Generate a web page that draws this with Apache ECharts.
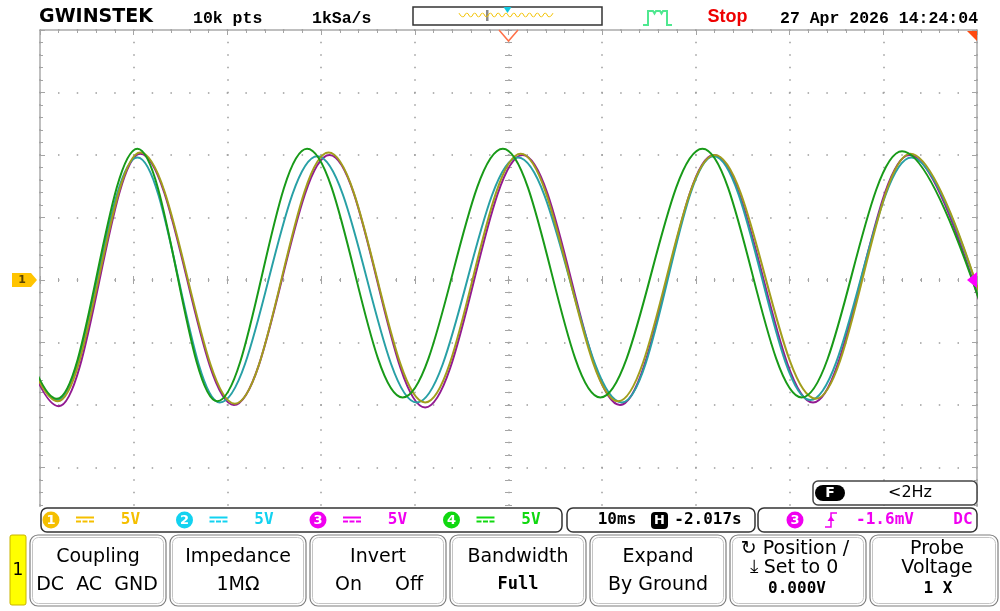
<!DOCTYPE html>
<html>
<head>
<meta charset="utf-8">
<title>GW Instek capture</title>
<script src="https://cdn.jsdelivr.net/npm/echarts@6/dist/echarts.min.js"></script>
<style>
  html, body { margin: 0; padding: 0; background: #fff; }
  #chart { width: 1000px; height: 611px; }
</style>
</head>
<body>
<div id="chart"></div>
<script>
// peaks and troughs: time in ms (10 ms/div), level in V (5 V/div)
// first and last entries sit just outside the 100 ms window
const ch1Times = [-7.6, 1.9, 10.7, 20.8, 30.8, 41.1, 51.3, 61.7, 72.0, 82.8, 92.9, 103.6];
const ch1Volts = [10.1, -9.7, 10.2, -9.9, 10.2, -9.8, 10.1, -9.7, 10.0, -9.5, 10.1, -9.7];
const ch2Times = [-7.0, 1.8, 10.4, 19.2, 29.6, 40.2, 51.0, 62.1, 71.9, 82.2, 93.0, 103.6];
const ch2Volts = [9.8, -9.6, 9.8, -9.8, 9.9, -9.8, 9.8, -9.8, 9.9, -9.6, 9.8, -9.7];
const ch3Times = [-7.4, 2.0, 10.7, 20.7, 30.9, 41.1, 51.5, 61.9, 71.9, 82.5, 92.8, 103.4];
const ch3Volts = [10.0, -10.1, 10.1, -10.0, 10.0, -10.2, 10.0, -10.0, 10.0, -9.8, 10.0, -10.0];
const ch4Times = [-7.0, 1.8, 10.4, 18.9, 28.5, 38.7, 49.4, 59.8, 70.7, 81.3, 92.0, 103.5];
const ch4Volts = [10.3, -9.5, 10.5, -9.7, 10.5, -9.4, 10.5, -9.4, 10.5, -9.4, 10.3, -9.5];

// memory overview strip in the header
const miniWave = [1, -1, 1, -1, 1, -1, 1, -1, 1, -1, 1, -1, 1, -1, 1, -1, 1, -1, 1, -1, 1, -1, 1, -1, 1];

const chanNames = ['1', '2', '3', '4'];
const chanScales = ['5V', '5V', '5V', '5V'];
const chanColors = ['#f5bf00', '#12d2f0', '#f000f0', '#10d810'];
const traceColors = ['#a29e1c', '#28a0a6', '#921a92', '#189a18'];

const chart = echarts.init(document.getElementById('chart'));

function zip(ts, vs) {
    return ts.map((t, i) => [t, vs[i]]);
}

function txt(x, y, text, font, fill, align) {
    const a = align || 'center';
    return {
        type: 'text', x: x, y: y, z: 110,
        style: {text: text, font: font, fill: fill, align: a, textAlign: a,
            verticalAlign: 'middle', textVerticalAlign: 'middle'}
    };
}

function box(x, y, w, h, r, fill, stroke, lw) {
    return {
        type: 'rect', z: 105,
        shape: {x: x, y: y, width: w, height: h, r: r},
        style: {fill: fill, stroke: stroke, lineWidth: lw || 1}
    };
}

const gridGray = '#a4a4a4';
const tickStyle = {color: gridGray, width: 1};

function tickAxis(kind, extra) {
    const base = {
        type: 'value',
        min: kind === 'x' ? 0 : -20,
        max: kind === 'x' ? 100 : 20,
        interval: kind === 'x' ? 10 : 5,
        axisLine: {show: false, onZero: false},
        axisLabel: {show: false},
        splitLine: {show: false},
        axisTick: {show: true, inside: true, length: 5, lineStyle: tickStyle},
        minorTick: {show: true, splitNumber: 5, length: 3, lineStyle: tickStyle}
    };
    return Object.assign(base, extra);
}

const monoB = 'bold 16px "DejaVu Sans Mono"';
const sans = '19px "DejaVu Sans"';

const elements = [];

// ---- header ----
elements.push(txt(96, 17, 'GWINSTEK', 'bold 19px "DejaVu Sans"', '#000'));
elements.push(txt(193, 19, '10k pts', 'bold 16.5px "Liberation Mono"', '#000', 'left'));
elements.push(txt(312, 19, '1kSa/s', 'bold 16.5px "Liberation Mono"', '#000', 'left'));
elements.push(box(413, 7, 189, 18, 0, '#fff', '#333', 1.5));
elements.push({type: 'rect', z: 112, shape: {x: 486, y: 10, width: 2.5, height: 11}, style: {fill: '#8a8a8a'}});
elements.push({type: 'polygon', z: 112, shape: {points: [[503.5, 7], [511.5, 7], [507.5, 13]]}, style: {fill: '#10c8e0'}});
elements.push({
    type: 'polyline', z: 110,
    shape: {points: [[643, 25], [648, 25], [648, 11], [653, 11], [654.5, 13.5], [656, 11], [660, 11], [661.5, 13.5], [663, 11], [667, 11], [667, 25], [672, 25]]},
    style: {stroke: '#4fe890', lineWidth: 2, fill: null}
});
elements.push(txt(727.5, 17.5, 'Stop', 'bold 18px "Liberation Sans"', '#ee0000'));
elements.push(txt(780, 19, '27 Apr 2026 14:24:04', 'bold 16.5px "Liberation Mono"', '#000', 'left'));

// ---- screen markers ----
elements.push({type: 'polyline', z: 110, shape: {points: [[499, 30], [508.5, 41], [518, 30]]}, style: {stroke: '#ff7048', lineWidth: 1.5, fill: null}});
elements.push({type: 'polygon', z: 110, shape: {points: [[967, 31], [977, 31], [977, 41]]}, style: {fill: '#ff4a10'}});
elements.push({type: 'polygon', z: 110, shape: {points: [[967, 280], [977, 272], [977, 288]]}, style: {fill: '#ff00ff'}});
elements.push({type: 'polygon', z: 110, shape: {points: [[12, 273], [31, 273], [37, 280], [31, 287], [12, 287]]}, style: {fill: '#ffc400'}});
elements.push(txt(22, 280.5, '1', 'bold 11px "DejaVu Sans"', '#5a4400'));

// ---- info bar ----
elements.push({type: 'rect', z: 100, shape: {x: 0, y: 507, width: 1000, height: 104}, style: {fill: '#fff'}});
elements.push(box(813, 481, 164, 24, 5, '#fff', '#444', 1.5));
elements.push(box(815, 485, 30, 16, 8, '#000', null, 0));
elements.push(txt(830, 493.5, 'F', 'bold 14px "DejaVu Sans"', '#fff'));
elements.push(txt(910, 493, '<2Hz', '16px "DejaVu Sans"', '#000'));

elements.push(box(41, 508, 521, 24, 6, '#fff', '#333', 1.5));
elements.push(box(567, 508, 188, 24, 6, '#fff', '#333', 1.5));
elements.push(box(758, 508, 219, 24, 6, '#fff', '#333', 1.5));

chanNames.forEach((name, i) => {
    const x0 = 51 + i * 133.5;
    const c = chanColors[i];
    elements.push({type: 'circle', z: 110, shape: {cx: x0, cy: 520, r: 8.5}, style: {fill: c}});
    elements.push(txt(x0, 520.5, name, 'bold 13px "DejaVu Sans"', '#fff'));
    elements.push({type: 'rect', z: 110, shape: {x: x0 + 25, y: 516.5, width: 18, height: 2}, style: {fill: c}});
    for (let k = 0; k < 3; k++) {
        elements.push({type: 'rect', z: 110, shape: {x: x0 + 25 + k * 6.5, y: 520.5, width: 5, height: 2}, style: {fill: c}});
    }
    elements.push(txt(x0 + 79.5, 520, chanScales[i], monoB, c));
});

elements.push(txt(617, 520, '10ms', monoB, '#000'));
elements.push(box(651, 512, 17, 17, 4, '#000', null, 0));
elements.push(txt(659.5, 520.5, 'H', 'bold 13px "DejaVu Sans"', '#fff'));
elements.push(txt(708, 520, '-2.017s', monoB, '#000'));

elements.push({type: 'circle', z: 110, shape: {cx: 795, cy: 520, r: 8.5}, style: {fill: '#f000f0'}});
elements.push(txt(795, 520.5, '3', 'bold 13px "DejaVu Sans"', '#fff'));
elements.push({type: 'polyline', z: 110, shape: {points: [[825, 527], [831, 527], [831, 513], [837, 513]]}, style: {stroke: '#f000f0', lineWidth: 1.5, fill: null}});
elements.push({type: 'polygon', z: 110, shape: {points: [[827.5, 521], [834.5, 521], [831, 516]]}, style: {fill: '#f000f0'}});
elements.push(txt(885, 520, '-1.6mV', monoB, '#f000f0'));
elements.push(txt(963, 520, 'DC', monoB, '#f000f0'));

// ---- soft menu ----
elements.push(box(10, 535, 16, 70, 2, '#ffff00', '#c8b400', 1));
elements.push(txt(18, 571, '1', '17px "DejaVu Sans"', '#000'));

const btnX = [30, 170, 310, 450, 590, 730, 870];
btnX.forEach((x, i) => {
    const w = i === 6 ? 128 : 136;
    elements.push(box(x, 535, w, 71, 8, '#fff', '#7e7e7e', 1.2));
    elements.push({type: 'rect', z: 106, shape: {x: x + 2.5, y: 537.5, width: w - 5, height: 66, r: 6}, style: {fill: null, stroke: '#c4c4c4', lineWidth: 1}});
});

elements.push(txt(98, 557, 'Coupling', sans, '#000'));
elements.push(txt(97, 585, 'DC  AC  GND', sans, '#000'));
elements.push(txt(238, 557, 'Impedance', sans, '#000'));
elements.push(txt(238, 585, '1MΩ', sans, '#000'));
elements.push(txt(378, 557, 'Invert', sans, '#000'));
elements.push(txt(348.5, 585, 'On', sans, '#000'));
elements.push(txt(409, 585, 'Off', sans, '#000'));
elements.push(txt(518, 557, 'Bandwidth', sans, '#000'));
elements.push(txt(518, 585, 'Full', 'bold 17px "DejaVu Sans Mono"', '#000'));
elements.push(txt(658, 557, 'Expand', sans, '#000'));
elements.push(txt(658, 585, 'By Ground', sans, '#000'));
elements.push(txt(795, 549.5, '↻ Position /', sans, '#000'));
elements.push(txt(794, 568.5, '⤓ Set to 0', sans, '#000'));
elements.push(txt(797, 589, '0.000V', monoB, '#000'));
elements.push(txt(937, 549.5, 'Probe', sans, '#000'));
elements.push(txt(937, 568.5, 'Voltage', sans, '#000'));
elements.push(txt(938, 589, '1 X', monoB, '#000'));

function trace(times, volts, color) {
    return {
        type: 'line',
        xAxisIndex: 0,
        yAxisIndex: 0,
        data: zip(times, volts),
        smooth: 0.36,
        smoothMonotone: 'x',
        symbol: 'none',
        silent: true,
        lineStyle: {color: color, width: 2},
        itemStyle: {color: color}
    };
}

const option = {
    backgroundColor: '#fff',
    animation: false,
    grid: [
        {left: 40, top: 30, width: 937, height: 500, show: true, borderColor: '#ababab', borderWidth: 1.5,
            backgroundColor: 'transparent', outerBoundsMode: 'none'},
        {left: 459, top: 13, width: 94, height: 4, outerBoundsMode: 'none'}
    ],
    xAxis: [
        {
            type: 'value', min: 0, max: 100, interval: 10,
            axisLine: {show: false, onZero: false}, axisTick: {show: false}, axisLabel: {show: false},
            splitLine: {show: true, lineStyle: {color: '#9c9c9c', width: 1.5, type: [1.5, 11], dashOffset: 0.75}}
        },
        tickAxis('x', {position: 'top'}),
        tickAxis('x', {position: 'bottom', offset: -250,
            axisTick: {show: true, inside: true, length: 4, lineStyle: tickStyle},
            minorTick: {show: true, splitNumber: 5, length: 2, lineStyle: tickStyle}}),
        tickAxis('x', {position: 'bottom', offset: -250,
            axisTick: {show: true, inside: false, length: 4, lineStyle: tickStyle},
            minorTick: {show: true, splitNumber: 5, length: 2, lineStyle: tickStyle}}),
        {type: 'category', gridIndex: 1, show: false, boundaryGap: false, data: miniWave.map((v, i) => i)}
    ],
    yAxis: [
        {
            type: 'value', min: -20, max: 20, interval: 5,
            axisLine: {show: false, onZero: false}, axisTick: {show: false}, axisLabel: {show: false},
            splitLine: {show: true, lineStyle: {color: '#9c9c9c', width: 1.5, type: [1.5, 17.24], dashOffset: 0.75}}
        },
        tickAxis('y', {position: 'left'}),
        tickAxis('y', {position: 'right'}),
        tickAxis('y', {position: 'left', offset: -468.5,
            axisTick: {show: true, inside: true, length: 3.5, lineStyle: tickStyle},
            minorTick: {show: true, splitNumber: 5, length: 3.5, lineStyle: tickStyle}}),
        tickAxis('y', {position: 'left', offset: -468.5,
            axisTick: {show: true, inside: false, length: 3.5, lineStyle: tickStyle},
            minorTick: {show: true, splitNumber: 5, length: 3.5, lineStyle: tickStyle}}),
        {type: 'value', gridIndex: 1, show: false, min: -1, max: 1}
    ],
    series: [
        trace(ch3Times, ch3Volts, traceColors[2]),
        trace(ch2Times, ch2Volts, traceColors[1]),
        trace(ch1Times, ch1Volts, traceColors[0]),
        trace(ch4Times, ch4Volts, traceColors[3]),
        {
            type: 'line', xAxisIndex: 4, yAxisIndex: 5, data: miniWave,
            smooth: 0.5, smoothMonotone: 'x', symbol: 'none', silent: true,
            lineStyle: {color: '#f2c200', width: 1}, z: 120
        }
    ],
    graphic: {elements: elements}
};

chart.setOption(option);
</script>
</body>
</html>
